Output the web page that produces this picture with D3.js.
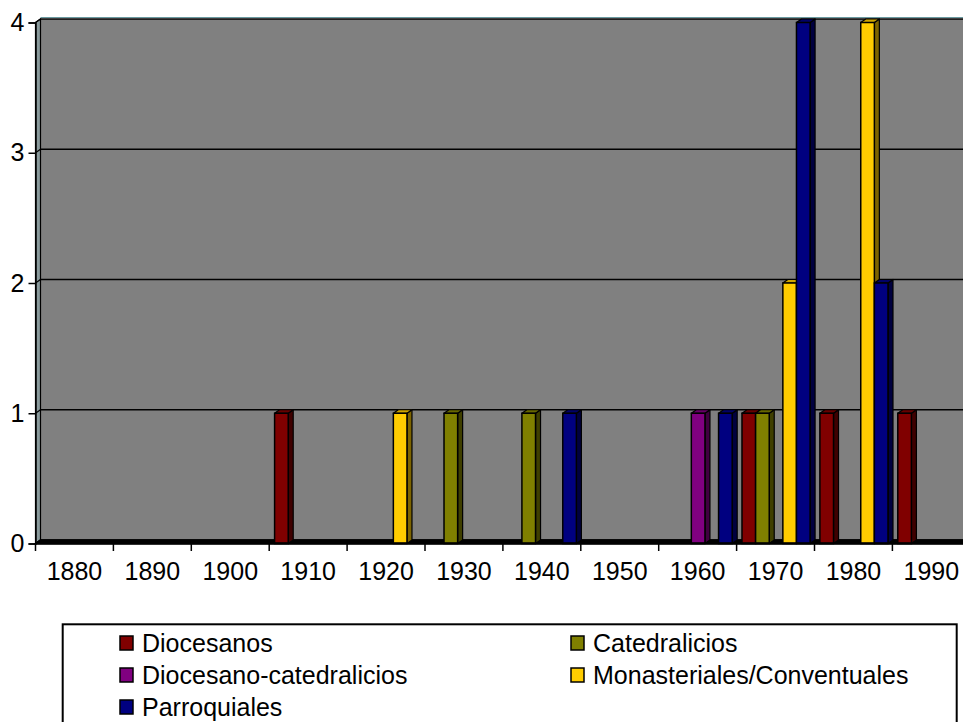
<!DOCTYPE html>
<html>
<head>
<meta charset="utf-8">
<script src="https://cdn.jsdelivr.net/npm/d3@7"></script>
<style>
  html, body { margin: 0; padding: 0; background: #ffffff; }
  svg { display: block; }
  text { font-family: "Liberation Sans", Arial, sans-serif; fill: #000; }
</style>
</head>
<body>
<svg id="chart" width="963" height="722"></svg>
<script>
// Decades on the category axis
const decades = ["1880", "1890", "1900", "1910", "1920", "1930", "1940", "1950", "1960", "1970", "1980", "1990"];

// Counts per decade for each series
const diocesanos             = [0, 0, 0, 1, 0, 0, 0, 0, 0, 1, 1, 1];
const catedralicios          = [0, 0, 0, 0, 0, 1, 1, 0, 0, 1, 0, 0];
const diocesanoCatedralicios = [0, 0, 0, 0, 0, 0, 0, 0, 1, 0, 0, 0];
const monasteriales          = [0, 0, 0, 0, 1, 0, 0, 0, 0, 2, 4, 0];
const parroquiales           = [0, 0, 0, 0, 0, 0, 1, 0, 1, 4, 2, 0];

const seriesNames  = ["Diocesanos", "Catedralicios", "Diocesano-catedralicios", "Monasteriales/Conventuales", "Parroquiales"];
const seriesValues = [diocesanos, catedralicios, diocesanoCatedralicios, monasteriales, parroquiales];
const seriesColors = ["#800000", "#808000", "#800080", "#ffcc00", "#000080"];

const yTicks = [0, 1, 2, 3, 4];

const FONT = "25px";
const svg = d3.select("#chart");

// Oblique depth of the 3D walls and bars
const DX = 5, DY = -3.5;

const xLeft = 35.5, step = 77.9;
const x0 = d3.scaleBand().domain(decades).range([xLeft, xLeft + step * decades.length]).padding(0);
const x1 = d3.scaleBand().domain(seriesNames).range([0, x0.bandwidth()]).paddingInner(0).paddingOuter(0.36).align(0.55);
const y = d3.scaleLinear().domain([0, 4]).range([543.5, 22.5]);
const xRight = x0.range()[1];

const g = svg.append("g");

// Back wall
g.append("rect")
  .attr("x", xLeft + DX).attr("y", y(4) + DY)
  .attr("width", xRight - xLeft).attr("height", y(0) - y(4))
  .attr("fill", "#808080");
g.append("line")
  .attr("x1", xLeft + DX).attr("x2", xRight + DX)
  .attr("y1", y(4) + DY - 1.5).attr("y2", y(4) + DY - 1.5)
  .attr("stroke", "#6a9aa0").attr("stroke-width", 1);

// Left side wall
g.append("path")
  .attr("d", `M${xLeft},${y(4)} L${xLeft + DX},${y(4) + DY} L${xLeft + DX},${y(0) + DY} L${xLeft},${y(0)} Z`)
  .attr("fill", "#8a9a9c").attr("stroke", "#000").attr("stroke-width", 1.2);

// Gridlines on the back wall and their continuation across the side wall
yTicks.forEach(v => {
  g.append("line")
    .attr("x1", xLeft + DX).attr("x2", xRight + DX)
    .attr("y1", y(v) + DY).attr("y2", y(v) + DY)
    .attr("stroke", "#000").attr("stroke-width", 1.5);
  g.append("line")
    .attr("x1", xLeft).attr("x2", xLeft + DX)
    .attr("y1", y(v)).attr("y2", y(v) + DY)
    .attr("stroke", "#000").attr("stroke-width", 1.2);
});

// Floor
g.append("path")
  .attr("d", `M${xLeft},${y(0)} L${xLeft + DX},${y(0) + DY} L${xRight + DX},${y(0) + DY} L${xRight},${y(0)} Z`)
  .attr("fill", "#000").attr("stroke", "#000").attr("stroke-width", 1.5);

// Bars, drawn left to right so each front face covers the previous side face
const bars = [];
decades.forEach((d, i) => {
  seriesNames.forEach((s, j) => {
    const v = seriesValues[j][i];
    if (v > 0) bars.push({ decade: d, series: s, value: v, color: seriesColors[j] });
  });
});

const barG = g.append("g").selectAll("g.bar").data(bars).join("g").attr("class", "bar");
barG.each(function (b) {
  const el = d3.select(this);
  const xa = x0(b.decade) + x1(b.series);
  const w = x1.bandwidth();
  const yt = y(b.value), yb = y(0);
  const c = d3.color(b.color);
  // side face
  el.append("path")
    .attr("d", `M${xa + w},${yt} L${xa + w + DX},${yt + DY} L${xa + w + DX},${yb + DY} L${xa + w},${yb} Z`)
    .attr("fill", c.darker(2)).attr("stroke", "#000").attr("stroke-width", 1.2).attr("stroke-linejoin", "round");
  // top face
  el.append("path")
    .attr("d", `M${xa},${yt} L${xa + DX},${yt + DY} L${xa + w + DX},${yt + DY} L${xa + w},${yt} Z`)
    .attr("fill", c.darker(0.6)).attr("stroke", "#000").attr("stroke-width", 1.2).attr("stroke-linejoin", "round");
  // front face
  el.append("rect")
    .attr("x", xa).attr("y", yt).attr("width", w).attr("height", yb - yt)
    .attr("fill", b.color).attr("stroke", "#000").attr("stroke-width", 1.5);
});

// Front x axis line
g.append("line")
  .attr("x1", xLeft).attr("x2", xRight)
  .attr("y1", y(0)).attr("y2", y(0))
  .attr("stroke", "#000").attr("stroke-width", 2.5);

// Category axis: labels centred in each decade, tick marks on boundaries
const xAxis = g.append("g")
  .attr("transform", `translate(0,${y(0)})`)
  .call(d3.axisBottom(x0).tickSize(0).tickPadding(19));
xAxis.select(".domain").remove();
xAxis.selectAll("text").style("font-size", FONT).attr("font-family", null);

g.append("g").selectAll("line")
  .data(decades.map(d => x0(d)).concat([xRight]))
  .join("line")
  .attr("x1", d => d).attr("x2", d => d)
  .attr("y1", y(0)).attr("y2", y(0) + 7.5)
  .attr("stroke", "#000").attr("stroke-width", 1.5);

// Value axis
const yAxis = g.append("g")
  .attr("transform", `translate(${xLeft},0)`)
  .call(d3.axisLeft(y).tickValues(yTicks).tickFormat(d3.format("d")).tickSize(7).tickPadding(4));
yAxis.select(".domain").attr("stroke", "#000").attr("stroke-width", 1.5);
yAxis.selectAll(".tick line").attr("stroke", "#000").attr("stroke-width", 1.5);
yAxis.selectAll("text").style("font-size", FONT).attr("font-family", null);

// Legend
const legend = svg.append("g");
legend.append("rect")
  .attr("x", 62.7).attr("y", 624.3).attr("width", 894).attr("height", 130)
  .attr("fill", "#fff").attr("stroke", "#000").attr("stroke-width", 2);

const legendCols = [120, 571];
const legendRows = [643, 675, 707];
seriesNames.forEach((s, j) => {
  const lx = legendCols[j % 2];
  const ly = legendRows[Math.floor(j / 2)];
  legend.append("rect")
    .attr("x", lx).attr("y", ly - 7).attr("width", 13).attr("height", 14)
    .attr("fill", seriesColors[j]).attr("stroke", "#000").attr("stroke-width", 1.5);
  legend.append("text")
    .attr("x", lx + 22).attr("y", ly).attr("dy", "0.35em")
    .style("font-size", FONT)
    .text(s);
});
</script>
</body>
</html>
